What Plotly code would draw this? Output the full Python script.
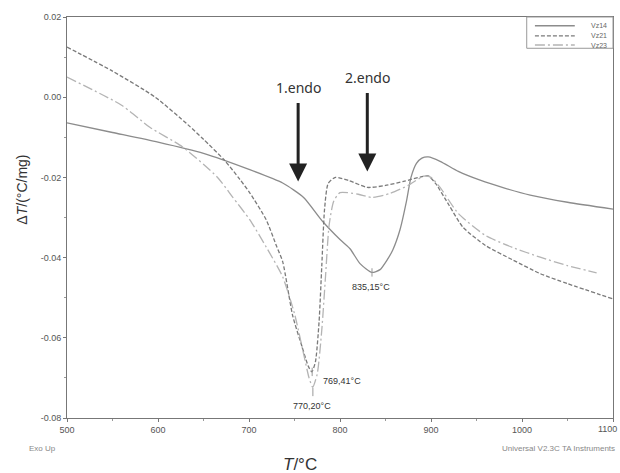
import plotly.graph_objects as go

# ---- data ----
vz14_x = [500, 550, 600, 650, 700, 737, 760, 781, 800, 811, 822, 835, 844, 852, 858, 866, 873, 878, 884, 890, 897, 910, 930, 954, 980, 1009, 1050, 1100]
vz14_y = [-0.0064, -0.0088, -0.0112, -0.0140, -0.0180, -0.0214, -0.0250, -0.0310, -0.0355, -0.0378, -0.0415, -0.0437, -0.0430, -0.0405, -0.0381, -0.0330, -0.0260, -0.0200, -0.0165, -0.0152, -0.0149, -0.0160, -0.0185, -0.0207, -0.0226, -0.0244, -0.0262, -0.0279]

vz21_x = [500, 550, 597, 633, 650, 673, 690, 701, 719, 730, 737, 748, 758, 765, 769, 773, 777, 780, 783, 787, 795, 810, 830, 850, 870, 890, 897, 905, 920, 935, 960, 990, 1020, 1050, 1100]
vz21_y = [0.0125, 0.0065, 0.0000, -0.0069, -0.0105, -0.0157, -0.0205, -0.0239, -0.0306, -0.0370, -0.0410, -0.0545, -0.0620, -0.0670, -0.0685, -0.0660, -0.0560, -0.0420, -0.0280, -0.0215, -0.0200, -0.0208, -0.0225, -0.0220, -0.0210, -0.0198, -0.0196, -0.0215, -0.0270, -0.0324, -0.0370, -0.0406, -0.0440, -0.0465, -0.0503]

vz23_x = [500, 560, 591, 627, 665, 682, 701, 719, 737, 750, 760, 766, 770, 775, 780, 784, 788, 793, 800, 820, 835, 855, 875, 892, 900, 910, 930, 960, 990, 1020, 1050, 1082]
vz23_y = [0.0050, -0.0020, -0.0075, -0.0124, -0.0199, -0.0249, -0.0306, -0.0374, -0.0448, -0.0540, -0.0640, -0.0700, -0.0723, -0.0690, -0.0580, -0.0450, -0.0320, -0.0260, -0.0238, -0.0242, -0.0250, -0.0240, -0.0220, -0.0197, -0.0200, -0.0225, -0.0290, -0.0345, -0.0375, -0.0399, -0.0420, -0.0438]

series_names = ["Vz14", "Vz21", "Vz23"]
series_colors = ["#8c8c8c", "#7a7a7a", "#b4b4b4"]
series_dash = ["solid", "4px,2px", "10px,3px,2px,3px"]

x_tickvals = [500, 600, 700, 800, 900, 1000]
x_ticktext = ["500", "600", "700", "800", "900", "1000"]
x_last_tick = 1100
y_tickvals = [0.02, 0.00, -0.02, -0.04, -0.06, -0.08]
y_ticktext = ["0.02", "0.00", "-0.02", "-0.04", "-0.06", "-0.08"]

# peak temperatures and their labels
peak_T = [769.41, 770.20, 835.15]
peak_val = [-0.0685, -0.0735, -0.0437]
peak_labels = ["769,41°C", "770,20°C", "835,15°C"]
peak_lx = [779, 769, 834]
peak_ly = [-0.0708, -0.0770, -0.0474]
peak_anchor = ["left", "center", "center"]

endo_labels = ["1.endo", "2.endo"]
endo_x = [754, 830]
endo_y = [-0.0210, -0.0185]

# ---- figure ----
fig = go.Figure()
for name, xs, ys, c, d in zip(series_names, [vz14_x, vz21_x, vz23_x], [vz14_y, vz21_y, vz23_y],
                              series_colors, series_dash):
    fig.add_trace(go.Scatter(x=xs, y=ys, name=name, mode="lines", showlegend=False,
                             line=dict(color=c, width=1.3, dash=d, shape="spline", smoothing=0.6)))

fig.add_trace(go.Scatter(x=peak_T, y=peak_val, mode="markers", showlegend=False, hoverinfo="skip",
                         marker=dict(symbol="line-ns", size=6, line=dict(color="#999", width=1))))

annotations = []
shapes = []
for t, x, y, a in zip(peak_labels, peak_lx, peak_ly, peak_anchor):
    annotations.append(dict(x=x, y=y, xref="x", yref="y", text=t, showarrow=False,
                            xanchor=a, yanchor="middle",
                            font=dict(family="Liberation Sans", size=9, color="#333")))
for t, x, y in zip(endo_labels, endo_x, endo_y):
    annotations.append(dict(x=x, y=y, xref="x", yref="y", text="", showarrow=True,
                            ax=0, ay=-80, arrowhead=2, arrowsize=1.2, arrowwidth=3,
                            arrowcolor="#222"))
    annotations.append(dict(x=x, y=y, xref="x", yref="y", text=t, showarrow=False,
                            yshift=94, xanchor="center", yanchor="middle",
                            font=dict(family="Noto Sans", size=14, color="#333")))

# compact legend box (drawn manually, top-right)
shapes.append(dict(type="rect", xref="paper", yref="paper", x0=0.842, x1=1.0, y0=0.922, y1=1.0,
                   line=dict(color="#999", width=1), fillcolor="white", layer="above"))
leg_rows = [0.978, 0.953, 0.930]
for name, c, d, yy in zip(series_names, series_colors, series_dash, leg_rows):
    shapes.append(dict(type="line", xref="paper", yref="paper", x0=0.857, x1=0.930, y0=yy, y1=yy,
                       line=dict(color=c, width=1.4, dash=d), layer="above"))
    annotations.append(dict(x=0.993, y=yy, xref="paper", yref="paper", text=name, showarrow=False,
                            xanchor="right", yanchor="middle",
                            font=dict(family="Liberation Sans", size=7, color="#666")))

# last x tick label at the right edge (kept inside the page)
annotations.append(dict(x=x_last_tick, y=0, xref="x", yref="paper", text=str(x_last_tick), showarrow=False,
                        xanchor="right", yanchor="top", yshift=-4, xshift=6,
                        font=dict(family="Liberation Sans", size=9, color="#555")))
annotations.append(dict(x=-0.073, y=-0.077, xref="paper", yref="paper", text="Exo Up",
                        showarrow=False, xanchor="left", yanchor="middle",
                        font=dict(family="Liberation Sans", size=8, color="#888")))
annotations.append(dict(x=1.008, y=-0.077, xref="paper", yref="paper", text="Universal V2.3C TA Instruments",
                        showarrow=False, xanchor="right", yanchor="middle",
                        font=dict(family="Liberation Sans", size=8, color="#888")))
annotations.append(dict(x=0.427, y=-0.117, xref="paper", yref="paper", text="<i>T</i>/°C",
                        showarrow=False, xanchor="center", yanchor="middle",
                        font=dict(family="Liberation Sans", size=17, color="#333")))
annotations.append(dict(x=-0.082, y=0.57, xref="paper", yref="paper", text="Δ<i>T</i>/(°C/mg)",
                        showarrow=False, xanchor="center", yanchor="middle", textangle=-90,
                        font=dict(family="Liberation Sans", size=14, color="#333")))

fig.update_layout(
    width=620, height=473,
    paper_bgcolor="white", plot_bgcolor="white",
    margin=dict(l=67, r=7, t=17, b=55),
    showlegend=False,
    annotations=annotations,
    shapes=shapes,
)
fig.update_xaxes(range=[500, 1100], tickvals=x_tickvals + [x_last_tick], ticktext=x_ticktext + [""],
                 showgrid=False, zeroline=False, showline=True, linecolor="#777", linewidth=1,
                 mirror=True, ticks="outside", ticklen=3, tickcolor="#777",
                 tickfont=dict(family="Liberation Sans", size=9, color="#555"),
                 minor=dict(ticks="outside", ticklen=2, dtick=50, tickcolor="#999"))
fig.update_yaxes(range=[-0.08, 0.02], tickvals=y_tickvals, ticktext=y_ticktext,
                 showgrid=False, zeroline=False, showline=True, linecolor="#777", linewidth=1,
                 mirror=True, ticks="outside", ticklen=3, tickcolor="#777",
                 tickfont=dict(family="Liberation Sans", size=9, color="#555"),
                 minor=dict(ticks="outside", ticklen=2, dtick=0.01, tick0=0, tickcolor="#999"))

fig.write_html("out.html", config={"displayModeBar": False},
               post_script="document.body.style.margin='0';")
